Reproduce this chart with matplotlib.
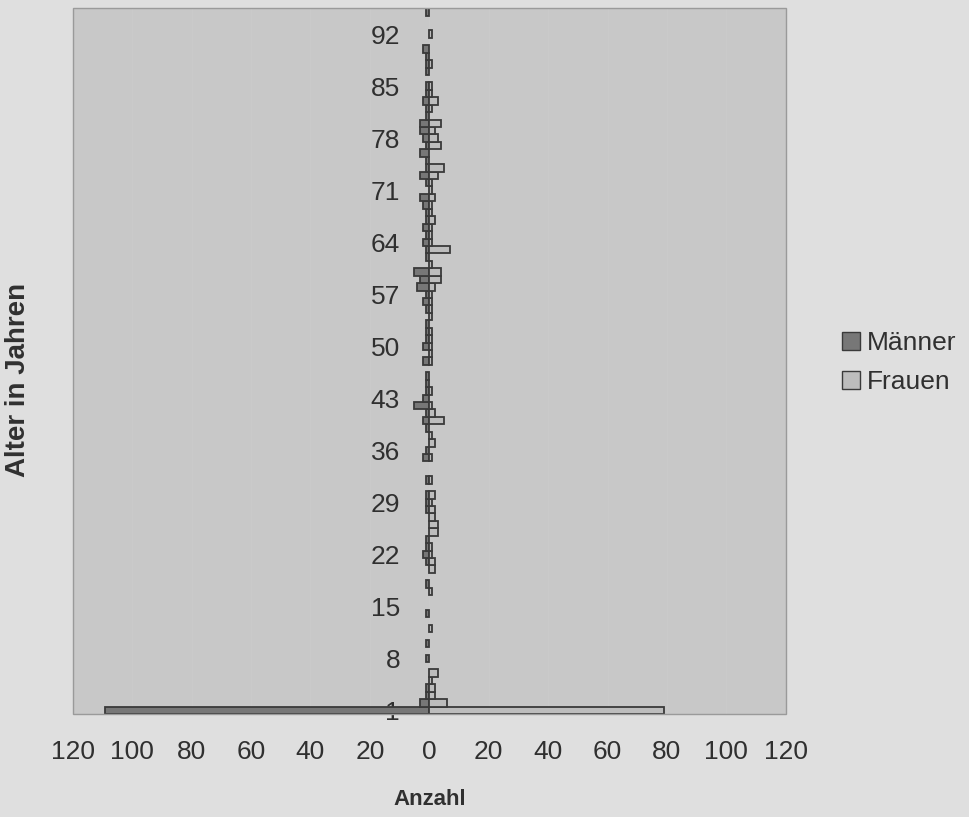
import numpy as np
import matplotlib
matplotlib.use('Agg')
import matplotlib.pyplot as plt
from matplotlib.patches import Patch, Rectangle
from matplotlib.ticker import FuncFormatter

plt.rcParams['font.family'] = ['Liberation Sans', 'DejaVu Sans']

# Alter 1..95
alter = list(range(1, 96))
maenner = [109, 3, 1, 1, 0, 0, 0, 1, 0, 1,
           0, 0, 0, 1, 0, 0, 0, 1, 0, 0,
           1, 2, 1, 1, 0, 0, 0, 1, 1, 1,
           0, 1, 0, 0, 2, 1, 0, 0, 1, 2,
           1, 5, 2, 1, 1, 1, 0, 2, 0, 2,
           1, 1, 1, 0, 1, 2, 1, 4, 3, 5,
           0, 1, 1, 2, 1, 2, 1, 1, 2, 3,
           0, 1, 3, 1, 1, 3, 1, 2, 3, 3,
           1, 1, 2, 1, 1, 0, 1, 1, 1, 2,
           0, 0, 0, 0, 1]
frauen = [79, 6, 2, 2, 1, 3, 0, 0, 0, 0,
          0, 1, 0, 0, 0, 0, 1, 0, 0, 2,
          2, 1, 1, 0, 3, 3, 2, 2, 1, 2,
          0, 1, 0, 0, 1, 0, 2, 1, 0, 5,
          2, 1, 0, 1, 0, 0, 0, 1, 1, 1,
          1, 1, 0, 1, 1, 1, 1, 2, 4, 4,
          1, 0, 7, 1, 1, 1, 2, 1, 1, 2,
          1, 1, 3, 5, 0, 0, 4, 3, 2, 4,
          0, 1, 3, 1, 1, 0, 0, 1, 0, 0,
          0, 1, 0, 0, 0]
ytick_alter = list(range(1, 96, 7))
xticks = list(range(-120, 121, 20))

c_m = '#777777'
c_f = '#bdbdbd'
c_edge = '#3a3a3a'
c_text = '#303030'

fig = plt.figure(figsize=(9.69, 8.17), dpi=100)
fig.patch.set_facecolor('#dfdfdf')
ax = fig.add_axes([0.075, 0.126, 0.736, 0.864])
ax.set_facecolor('#c8c8c8')

a = np.array(alter)
m = np.array(maenner)
f = np.array(frauen)
ax.barh(a[m > 0], -m[m > 0], height=1.0, color=c_m, edgecolor=c_edge, linewidth=1.3, zorder=3)
ax.barh(a[f > 0], f[f > 0], height=1.0, color=c_f, edgecolor=c_edge, linewidth=1.3, zorder=3)

ax.set_xlim(-120, 120)
ax.set_ylim(0.5, 95.5)
ax.set_xticks(xticks)
ax.xaxis.set_major_formatter(FuncFormatter(lambda v, p: '%d' % abs(v)))
ax.set_yticks(ytick_alter)
for v in xticks[1:-1]:
    ax.axvline(v, color='#cbcbcb', linewidth=0.6, zorder=1)

for s in ax.spines.values():
    s.set_visible(False)
ax.spines['left'].set_position(('data', 0))
ax.add_patch(Rectangle((0, 0), 1, 1, transform=ax.transAxes, fill=False,
                       edgecolor='#9a9a9a', linewidth=1.0, clip_on=False, zorder=4))

ax.tick_params(axis='x', length=0, pad=19, labelsize=19, labelcolor=c_text)
ax.tick_params(axis='y', length=0, pad=21, labelsize=19, labelcolor=c_text)
for lab in ax.get_yticklabels():
    lab.set_zorder(5)

fig.text(0.444, 0.021, 'Anzahl', ha='center', va='center', fontsize=16,
         fontweight='bold', color=c_text)
fig.text(0.019, 0.535, 'Alter in Jahren', ha='center', va='center', fontsize=20,
         fontweight='bold', color=c_text, rotation=90)

handles = [Patch(facecolor=c_m, edgecolor=c_edge, label='Männer'),
           Patch(facecolor=c_f, edgecolor=c_edge, label='Frauen')]
leg = fig.legend(handles=handles, loc='center left', bbox_to_anchor=(0.858, 0.556),
                 frameon=False, fontsize=19, handlelength=0.7, handleheight=0.7,
                 handletextpad=0.25, labelspacing=0.55, borderaxespad=0)
for t in leg.get_texts():
    t.set_color(c_text)

fig.savefig('out.png', dpi=100, facecolor=fig.get_facecolor())
